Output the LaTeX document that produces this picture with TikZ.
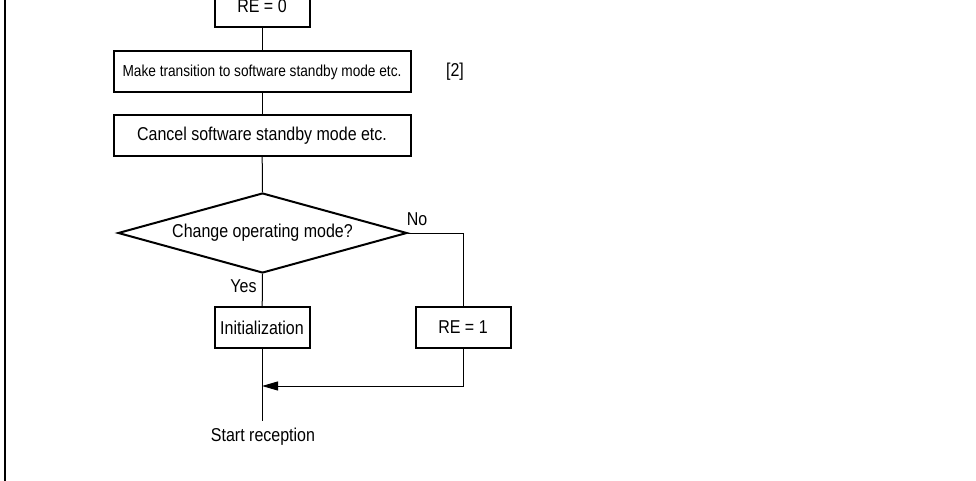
\documentclass[tikz,border=0pt]{standalone}
\usepackage{fontspec}
\setmainfont[FakeStretch=0.86]{Liberation Sans}
\usetikzlibrary{arrows.meta,shapes.geometric}
\begin{document}
\begin{tikzpicture}[x=1pt,y=-1pt,
  every node/.style={font=\fontsize{18.6}{21}\selectfont},
  box/.style={draw,line width=2pt,minimum height=41pt,inner sep=0pt},
  conn/.style={line width=1pt},
  lbl/.style={inner sep=0pt}]
\useasboundingbox (0,0) rectangle (976,481);
\clip (0,0) rectangle (976,481);
\draw[line width=2pt] (5,-2) -- (5,483);
\node[box,minimum width=95pt] (re0) at (262,6.5) {RE = 0};
\node[box,minimum width=297pt,font=\fontsize{15.9}{18}\selectfont] (mk) at (262,72) {Make transition to software standby mode etc.};
\node[lbl] (n2) at (455,72) {[2]};
\node[box,minimum width=297pt] (cc) at (262,135.5) {Cancel software standby mode etc.};
\node[diamond,draw,line width=2pt,minimum width=289pt,minimum height=80pt,aspect=3.6,inner sep=0pt] (dm) at (262.5,233) {Change operating mode?};
\node[lbl] (no) at (417,219) {No};
\node[lbl] (yes) at (243.5,286) {Yes};
\node[box,minimum width=95pt] (init) at (262,327.5) {Initialization};
\node[box,minimum width=95pt] (re1) at (463,327.5) {RE = 1};
\coordinate (end) at (262,421);
\coordinate (merge) at (262,386);
\node[lbl] (sr) at (263,437) {Start reception};
\draw[conn] (re0) -- (mk);
\draw[conn] (mk) -- (cc);
\draw[conn] (cc) -- (dm.north);
\draw[conn] (dm.south) -- (init);
\draw[conn] (dm.east) -| (re1.north);
\draw[conn] (init) -- (end);
\draw[conn,-{Triangle[length=16pt,width=9pt]}] (re1.south) |- (merge);
\end{tikzpicture}
\end{document}
